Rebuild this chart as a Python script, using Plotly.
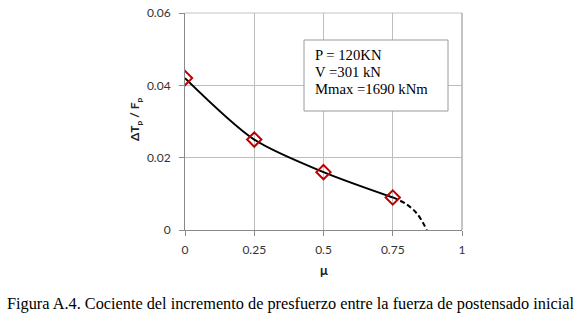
import plotly.graph_objects as go

mu = [0, 0.25, 0.5, 0.75]
ratio = [0.042, 0.025, 0.016, 0.009]
mu_ext = [0.75, 0.8, 0.84, 0.873]
ratio_ext = [0.009, 0.0071, 0.0043, 0.0]
x_ticks = [0, 0.25, 0.5, 0.75, 1]
x_tick_labels = ["0", "0.25", "0.5", "0.75", "1"]
y_ticks = [0, 0.02, 0.04, 0.06]
y_tick_labels = ["0", "0.02", "0.04", "0.06"]
box_lines = ["P = 120KN", "V =301 kN", "Mmax =1690 kNm"]
caption = "Figura A.4. Cociente del incremento de presfuerzo entre la fuerza de postensado inicial"

W, H = 580, 325
L, T = 185, 13
PW, PH = 277, 217
R, B = W - L - PW, H - T - PH


def px(xp):
    return (xp - L) / PW


def py(yp):
    return 1 - (yp - T) / PH


fig = go.Figure()
fig.add_trace(go.Scatter(x=mu_ext, y=ratio_ext, mode="lines",
                         line=dict(color="black", width=2, dash="5px,3px", shape="spline"),
                         showlegend=False, hoverinfo="skip"))
fig.add_trace(go.Scatter(x=mu, y=ratio, mode="lines",
                         line=dict(color="black", width=2, shape="spline", smoothing=0.8),
                         showlegend=False))
fig.add_trace(go.Scatter(x=mu, y=ratio, mode="markers",
                         marker=dict(symbol="diamond-open", size=11, color="#c00000",
                                     line=dict(color="#c00000", width=2)),
                         showlegend=False))

tickfont = dict(family="Lato, Open Sans, sans-serif", size=12, color="#333333")
common = dict(showgrid=True, gridcolor="#bdbdbd", gridwidth=1,
              showline=True, linecolor="#8a8a8a", linewidth=1,
              ticks="outside", ticklen=5, tickcolor="#8a8a8a",
              zeroline=False, tickfont=tickfont, automargin=False)
fig.update_xaxes(range=[0, 1], tickvals=x_ticks, ticktext=x_tick_labels,
                 ticklabelstandoff=4, **common)
fig.update_yaxes(range=[0, 0.06], tickvals=y_ticks, ticktext=y_tick_labels,
                 ticklabelstandoff=6, **common)

annotations = [
    dict(xref="paper", yref="paper", x=px(135), y=py(119),
         text="<b>ΔT<sub>p</sub> / F<sub>p</sub></b>", textangle=-90, showarrow=False,
         font=dict(family="Lato, sans-serif", size=12, color="#222222"),
         xanchor="center", yanchor="middle"),
    dict(xref="paper", yref="paper", x=px(323.5), y=py(270),
         text="<b>μ</b>", showarrow=False,
         font=dict(family="Lato, sans-serif", size=13, color="#222222"),
         xanchor="center", yanchor="middle"),
    dict(xref="paper", yref="paper", x=px(290), y=py(303),
         text=caption, showarrow=False,
         font=dict(family="Liberation Serif, Times New Roman, serif", size=16.3, color="black"),
         xanchor="center", yanchor="middle"),
]
for i, line in enumerate(box_lines):
    annotations.append(dict(xref="paper", yref="paper", x=px(313),
                            y=py(55 + 17 * i),
                            text=line, showarrow=False, xanchor="left", yanchor="middle",
                            font=dict(family="Liberation Serif, Times New Roman, serif",
                                      size=14.7, color="black")))

shapes = [
    dict(type="line", xref="paper", yref="paper", x0=0, x1=1, y0=1, y1=1,
         line=dict(color="#c4c4c4", width=1), layer="below"),
    dict(type="line", xref="paper", yref="paper", x0=1, x1=1, y0=0, y1=1,
         line=dict(color="#8a8a8a", width=1), layer="below"),
    dict(type="rect", xref="paper", yref="paper",
         x0=px(304), x1=px(448), y0=py(111), y1=py(40),
         line=dict(color="#9a9a9a", width=1), fillcolor="white", layer="above"),
]

fig.update_layout(width=W, height=H, margin=dict(l=L, r=R, t=T, b=B),
                  paper_bgcolor="white", plot_bgcolor="white",
                  annotations=annotations, shapes=shapes, showlegend=False)
fig.write_html("out.html", config={"displayModeBar": False, "staticPlot": True},
               post_script="document.body.style.margin='0px';document.body.style.overflow='hidden';")
